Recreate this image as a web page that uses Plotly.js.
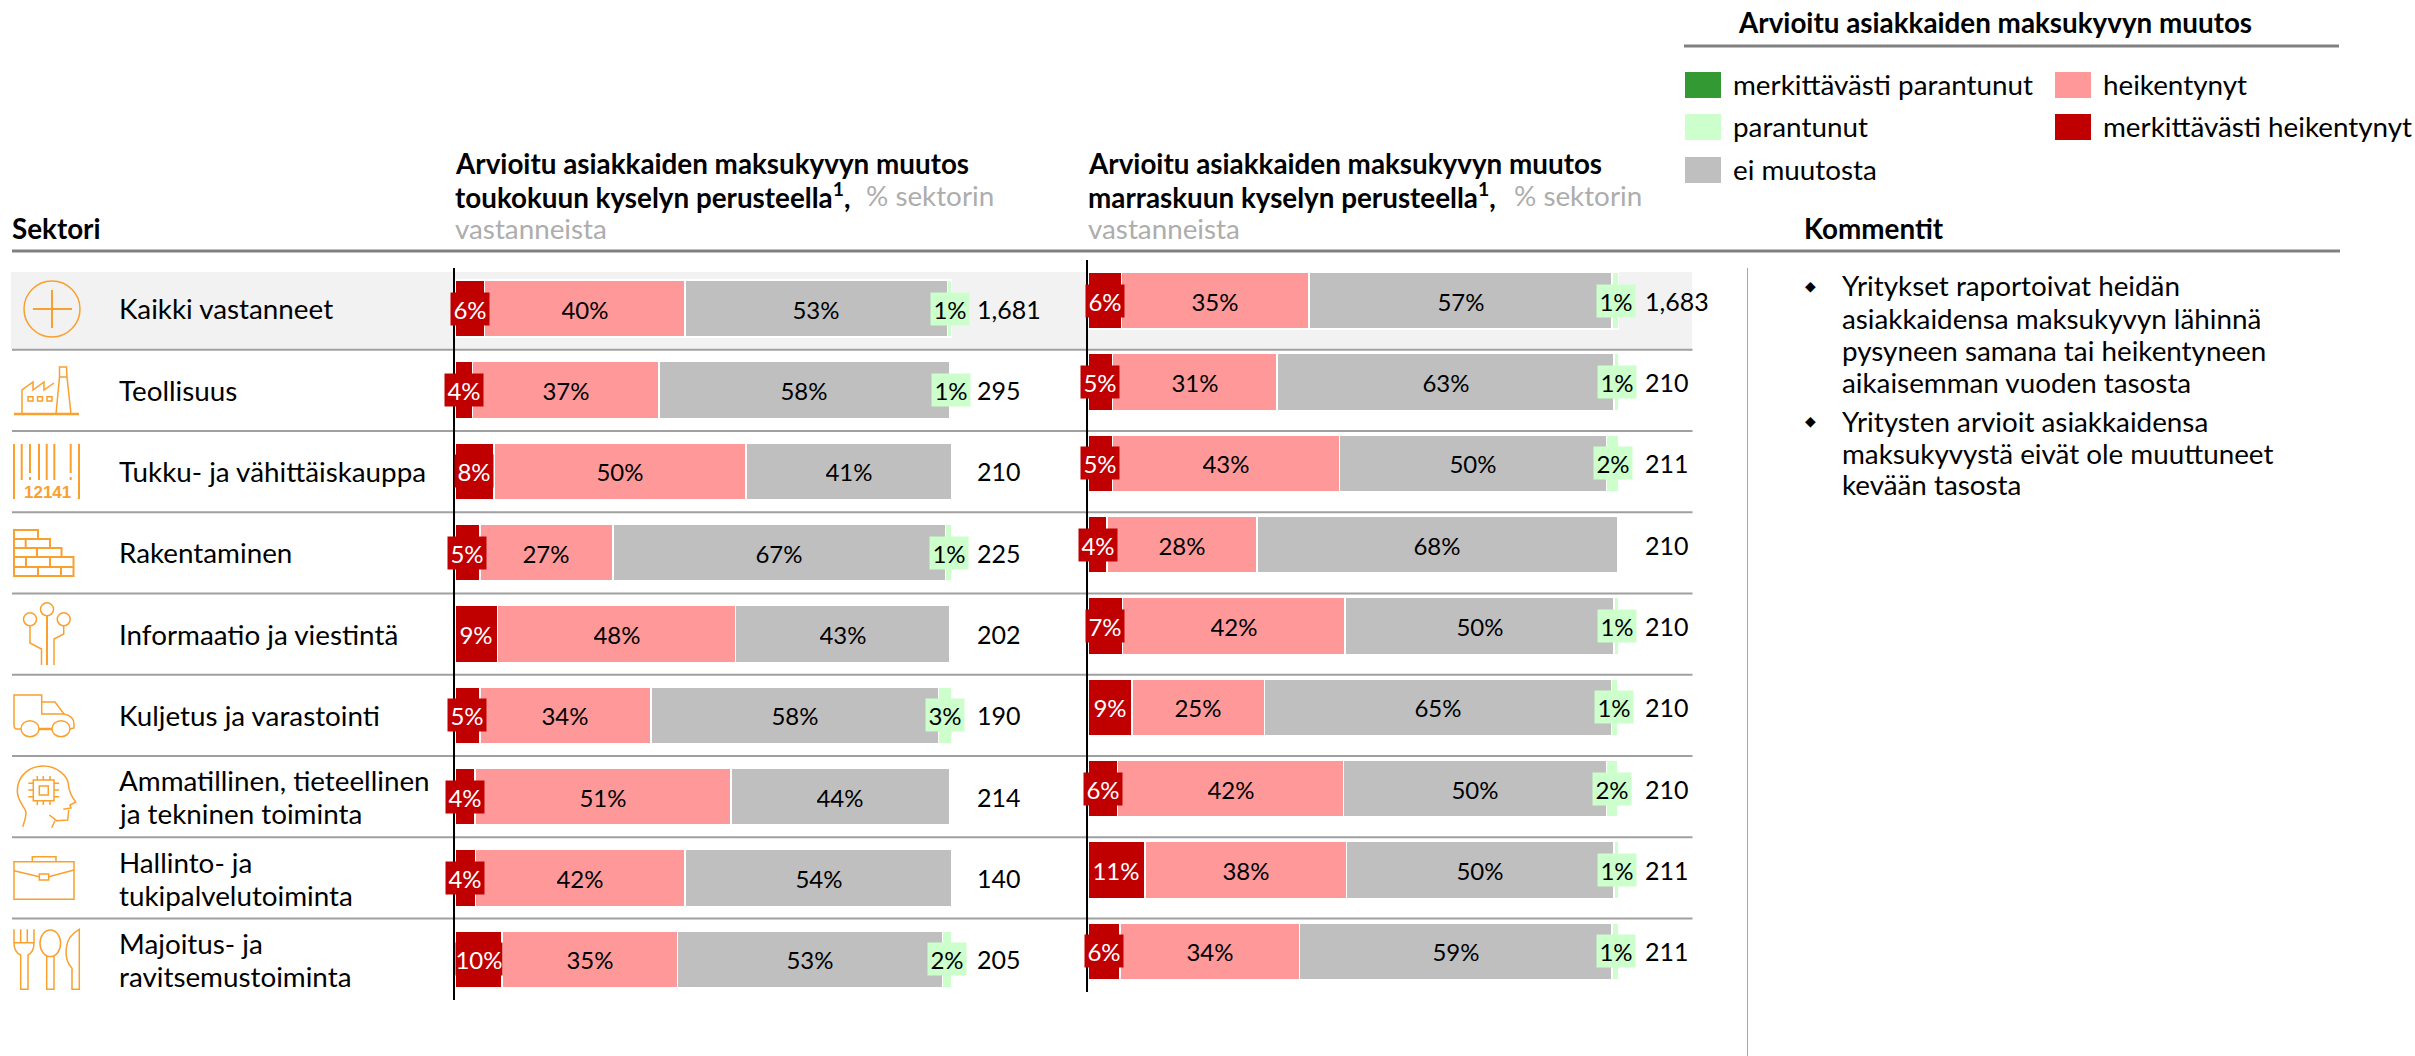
<!DOCTYPE html>
<html><head><meta charset="utf-8">
<script src="https://cdn.plot.ly/plotly-3.0.1.min.js"></script>
<style>html,body{margin:0;padding:0;background:#fff}#c{width:2415px;height:1056px}</style>
</head><body><div id="c"></div>
<script>
const categories = ["Kaikki vastanneet","Teollisuus","Tukku- ja vähittäiskauppa","Rakentaminen","Informaatio ja viestintä","Kuljetus ja varastointi","Ammatillinen, tieteellinen ja tekninen toiminta","Hallinto- ja tukipalvelutoiminta","Majoitus- ja ravitsemustoiminta"];
const categoryLines = [["Kaikki vastanneet"],["Teollisuus"],["Tukku- ja vähittäiskauppa"],["Rakentaminen"],["Informaatio ja viestintä"],["Kuljetus ja varastointi"],["Ammatillinen, tieteellinen","ja tekninen toiminta"],["Hallinto- ja","tukipalvelutoiminta"],["Majoitus- ja","ravitsemustoiminta"]];
const seriesNames = ["merkittävästi heikentynyt","heikentynyt","ei muutosta","parantunut","merkittävästi parantunut"];

const mayStrongDown = [5.9,3.5,7.8,5.0,8.6,5.0,4.0,4.1,9.5];
const mayDown       = [40.4,37.5,50.7,26.8,47.8,34.4,51.5,42.2,35.3];
const mayNoChange   = [52.8,58.6,41.5,66.9,43.2,57.9,44.1,53.7,53.3];
const mayUp         = [0.9,0.4,null,1.3,null,2.7,null,null,1.9];
const mayStrongUp   = [null,null,null,null,null,null,null,null,null];
const mayLabelsDD = ["6%","4%","8%","5%","9%","5%","4%","4%","10%"];
const mayLabelsD  = ["40%","37%","50%","27%","48%","34%","51%","42%","35%"];
const mayLabelsN  = ["53%","58%","41%","67%","43%","58%","44%","54%","53%"];
const mayLabelsU  = ["1%","1%",null,"1%",null,"3%",null,null,"2%"];
const mayCounts   = ["1,681","295","210","225","202","190","214","140","205"];

const novStrongDown = [6.3,4.6,4.6,3.6,6.5,8.3,5.6,10.7,6.0];
const novDown       = [35.3,31.0,42.8,28.2,41.9,24.9,42.5,38.0,33.8];
const novNoChange   = [57.1,63.5,50.2,67.9,50.7,65.4,49.5,50.4,58.9];
const novUp         = [1.3,0.9,2.4,null,0.9,1.1,2.1,0.9,1.3];
const novStrongUp   = [null,null,null,null,null,0.2,0.2,null,null];
const novLabelsDD = ["6%","5%","5%","4%","7%","9%","6%","11%","6%"];
const novLabelsD  = ["35%","31%","43%","28%","42%","25%","42%","38%","34%"];
const novLabelsN  = ["57%","63%","50%","68%","50%","65%","50%","50%","59%"];
const novLabelsU  = ["1%","1%","2%",null,"1%","1%","2%","1%","1%"];
const novCounts   = ["1,683","210","211","210","210","210","210","211","211"];

const colors = ["#C00000","#FF9999","#BFBFBF","#CCFFCC","#339933"];
const FONT = "Lato, 'Open Sans', sans-serif";
const FS = 27.8, NS = 24, CS = 25, W = 2415, H = 1056, ORANGE = "#F9A02F";
const fx = v => v / W, fy = v => 1 - v / H;

const mayVals = [mayStrongDown,mayDown,mayNoChange,mayUp,mayStrongUp];
const novVals = [novStrongDown,novDown,novNoChange,novUp,novStrongUp];
const data = [];
function addTraces(vals, xa, ya){
  vals.forEach((v,i)=>data.push({type:"bar",orientation:"h",name:seriesNames[i],y:categories,x:v,xaxis:xa,yaxis:ya,
    marker:{color:colors[i],line:{color:"#fff",width:1.5}},showlegend:false,hoverinfo:"x+name"}));
}
addTraces(mayVals,"x","y");
addTraces(novVals,"x2","y2");

const anns = [], shapes = [];
function txt(x,y,t,o={}){
  anns.push(Object.assign({xref:"paper",yref:"paper",x:fx(x-2),y:fy(y-1),text:t,showarrow:false,xanchor:"left",yanchor:"middle",
    font:{family:FONT,size:FS,color:"#000"}},o));
}
function line(x0,y0,x1,y1,color,width,layer){
  shapes.push({type:"line",xref:"paper",yref:"paper",x0:fx(x0),x1:fx(x1),y0:fy(y0),y1:fy(y1),line:{color,width},layer:layer||"below"});
}
function rect(x0,y0,x1,y1,fill,stroke,sw,layer){
  shapes.push({type:"rect",xref:"paper",yref:"paper",x0:fx(x0),x1:fx(x1),y0:fy(y0),y1:fy(y1),fillcolor:fill,line:{color:stroke||fill,width:stroke?sw:0},layer:layer||"below"});
}
function path(d,w,fill){
  const s = d.replace(/([MLCQ])?\s*(-?[\d.]+),(-?[\d.]+)/g,(m,c,a,b)=>(c||"")+" "+fx(+a).toFixed(6)+","+fy(+b).toFixed(6)+" ");
  shapes.push({type:"path",xref:"paper",yref:"paper",path:s,line:{color:ORANGE,width:w||1.5},fillcolor:fill||"rgba(0,0,0,0)",layer:"above"});
}
function circ(cx,cy,rx,ry,w){
  shapes.push({type:"circle",xref:"paper",yref:"paper",x0:fx(cx-rx),x1:fx(cx+rx),y0:fy(cy-ry),y1:fy(cy+ry),line:{color:ORANGE,width:w||1.5},layer:"above"});
}

rect(11,272,1692,349.5,"#F2F2F2");
line(12,251,2340,251,"#808080",3);
line(1684,46,2339,46,"#808080",3);
for(let i=0;i<8;i++) line(12,349.7+i*81.25,1692.5,349.7+i*81.25,"#A0A0A0",2);
line(1747.5,268,1747.5,1056,"#A6A6A6",1);

function segLabels(vals,lists,xa,ya){
  categories.forEach((c,r)=>{
    let acc=0;
    lists.forEach((l,s)=>{
      const v=vals[s][r]||0;
      if(l[r]){
        anns.push({xref:xa,yref:ya,x:acc+v/2,y:c,text:l[r],showarrow:false,xanchor:"center",yanchor:"middle",
          width:l[r].length>2?46:38,height:32,align:"center",valign:"middle",bgcolor:colors[s],borderpad:0,
          font:{family:FONT,size:NS,color:s===0?"#fff":"#000"}});
      }
      acc+=v;
    });
  });
}
segLabels(mayVals,[mayLabelsDD,mayLabelsD,mayLabelsN,mayLabelsU],"x","y");
segLabels(novVals,[novLabelsDD,novLabelsD,novLabelsN,novLabelsU],"x2","y2");

categories.forEach((c,r)=>{
  const base={yref:"y",y:c,x:fx(975),xref:"paper",text:mayCounts[r],showarrow:false,xanchor:"left",yanchor:"middle",font:{family:FONT,size:CS,color:"#000"}};
  anns.push(base);
  anns.push(Object.assign({},base,{yref:"y2",x:fx(1643),text:novCounts[r]}));
  const ls=categoryLines[r];
  ls.forEach((t,i)=>anns.push(Object.assign({},base,{x:fx(117),text:t,font:{family:FONT,size:FS,color:"#000"},yshift:ls.length>1?(i===0?16:-17):0})));
});

const GREY="#ADADAD", greyFont={family:FONT,size:FS,color:GREY};
txt(12,229,"<b>Sektori</b>");
txt(455,165,"<b>Arvioitu asiakkaiden maksukyvyn muutos</b>");
txt(455,197,"<b>toukokuun kyselyn perusteella<sup>1</sup>,</b>");
txt(866,197,"% sektorin",{font:greyFont});
txt(455,229,"vastanneista",{font:greyFont});
txt(1088,165,"<b>Arvioitu asiakkaiden maksukyvyn muutos</b>");
txt(1088,197,"<b>marraskuun kyselyn perusteella<sup>1</sup>,</b>");
txt(1514,197,"% sektorin",{font:greyFont});
txt(1088,229,"vastanneista",{font:greyFont});
txt(1804,229,"<b>Kommentit</b>");

txt(1738,24,"<b>Arvioitu asiakkaiden maksukyvyn muutos</b>");
[[4,1685,72],[3,1685,114],[2,1685,157],[1,2055,72],[0,2055,114]].forEach(([s,x,y])=>{
  rect(x,y,x+36,y+26,colors[s]);
  txt(x+48,y+13,seriesNames[s]);
});

[[287,"Yritykset raportoivat heidän"],[319,"asiakkaidensa maksukyvyn lähinnä"],[351,"pysyneen samana tai heikentyneen"],[383,"aikaisemman vuoden tasosta"],
 [422,"Yritysten arvioit asiakkaidensa"],[454,"maksukyvystä eivät ole muuttuneet"],[486,"kevään tasosta"]].forEach(([y,t])=>txt(1842,y,t));
[287,422].forEach(y=>txt(1812,y,"◆",{xanchor:"center",font:{family:"DejaVu Sans",size:14,color:"#000"}}));

circ(52,309,28,28);
path("M33,309 L72,309 M52,290 L52,328",2);
path("M14,414 L79,414",2.5);
path("M22,414 L22,390 L33,382 L33,390 L44,382 L44,390 L54,383");
path("M56,414 L59.5,377 L59.5,367 L66.5,367 L67,377 L71,414 M59.5,377 L67,377");
path("M28,396.7 L33,396.7 L33,401 L28,401 Z M37.5,396.7 L42.5,396.7 L42.5,401 L37.5,401 Z M47,396.7 L52,396.7 L52,401 L47,401 Z");
[14,79].forEach(x=>path("M"+x+",444 L"+x+",499",2));
[21.7,39,46.7,54.3].forEach(x=>path("M"+x+",444 L"+x+",480",2));
[30,70.7].forEach(x=>path("M"+x+",444 L"+x+",473 M"+x+",477 L"+x+",480",2));
txt(49,494,"<b>12141</b>",{xanchor:"center",font:{family:"Liberation Sans",size:17,color:ORANGE}});
path("M14,530 L38,530 L38,539 L50,539 L50,548 L61.5,548 L61.5,557 L73.5,557 L73.5,576 L14,576 Z",2);
path("M14,539 L38,539 M14,548 L50,548 M14,557 L61.5,557 M14,567 L73.5,567 M25.7,539 L25.7,548 M37,548 L37,557 M26,557 L26,567 M50,557 L50,567 M38,567 L38,576 M61,567 L61,576",2);
circ(47,609.3,6.5,6.5);circ(30,619.3,6.5,6.5);circ(63.7,619.3,6.5,6.5);
path("M47,616 L47,665",2);
path("M30,626 L30,643 L41.5,649 L41.5,665");
path("M63.7,626 L63.7,634 L54,639 L54,665");
path("M21,729 L17,729 Q14,729 14,725 L14,695 L41.7,695 L41.7,714 L64,714 Q74,716 74,724 L74,728 L70,729");
path("M41.7,702 L55,702 L64,714");
circ(30,728.7,9,8);circ(61,728.7,9,8);
path("M39,729 L52,729",2.5);
path("M22.7,826.7 C25,820 27,815 25.7,811 C22,803 17,800 17.3,790 C18,775 30,766 43,766 C57,766 68,776 68.5,785 C69,792 71,796 75.7,802 L70,805 L71,808 L63.3,809.3 M68.7,810 L67.7,820 L56.7,820.7 L49.3,815 M55,820.7 L51.7,827.7");
path("M33.3,780 L54,780 L54,800.7 L33.3,800.7 Z M39.3,786 L48.3,786 L48.3,795 L39.3,795 Z");
path("M37.3,776 L37.3,780 M43.3,776 L43.3,780 M50,776 L50,780 M37.3,800.7 L37.3,805 M43.3,800.7 L43.3,805 M50,800.7 L50,805 M28.3,783.3 L33.3,783.3 M28.3,790 L33.3,790 M28.3,796.7 L33.3,796.7 M54,783.3 L59,783.3 M54,790 L59,790 M54,796.7 L59,796.7");
path("M14,861.7 L74,861.7 L74,899.3 L14,899.3 Z");
path("M32.3,861.7 L32.3,856.7 L56,856.7 L56,861.7");
path("M14,870.7 L39.3,876.7 M48.7,876.7 L74,870");
path("M39.3,874 L48.7,874 L48.7,880 L39.3,880 Z");
path("M14,929.3 L14,942.7 Q14,952 20.7,955 L20.7,989.3 L28,989.3 L28,955 Q34,952 34,942.7 L34,929.3 M20.7,929.3 L20.7,942.7 M27.3,929.3 L27.3,942.7 M14,942.7 L34,942.7");
circ(50.3,943.3,10.3,13.3);
path("M46.7,956 L46.7,989.3 L54,989.3 L54,956");
path("M79.3,929.3 L79.3,989.3 L72,989.3 L72,968.3 C64,960 62,938 79.3,929.3 Z");

const yCommon={type:"category",categoryorder:"array",categoryarray:categories,range:[8.5,-0.5],showticklabels:false,ticks:"",showgrid:false,zeroline:false,showline:true,linecolor:"#000",linewidth:2};
const xCommon={range:[0,100],showticklabels:false,ticks:"",showgrid:false,zeroline:false,showline:false,fixedrange:true};
const layout={width:W,height:H,margin:{l:0,r:0,t:0,b:0},paper_bgcolor:"#fff",plot_bgcolor:"rgba(0,0,0,0)",barmode:"stack",bargap:0.3,
  xaxis:Object.assign({},xCommon,{domain:[fx(455),fx(952)],anchor:"y"}),
  xaxis2:Object.assign({},xCommon,{domain:[fx(1088),fx(1619)],anchor:"y2"}),
  yaxis:Object.assign({},yCommon,{domain:[fy(1000),fy(268)],anchor:"x"}),
  yaxis2:Object.assign({},yCommon,{domain:[fy(992),fy(260)],anchor:"x2"}),
  annotations:anns,shapes:shapes,showlegend:false,font:{family:FONT,size:FS}};
Plotly.newPlot("c",data,layout,{displayModeBar:false,staticPlot:true});
</script></body></html>
